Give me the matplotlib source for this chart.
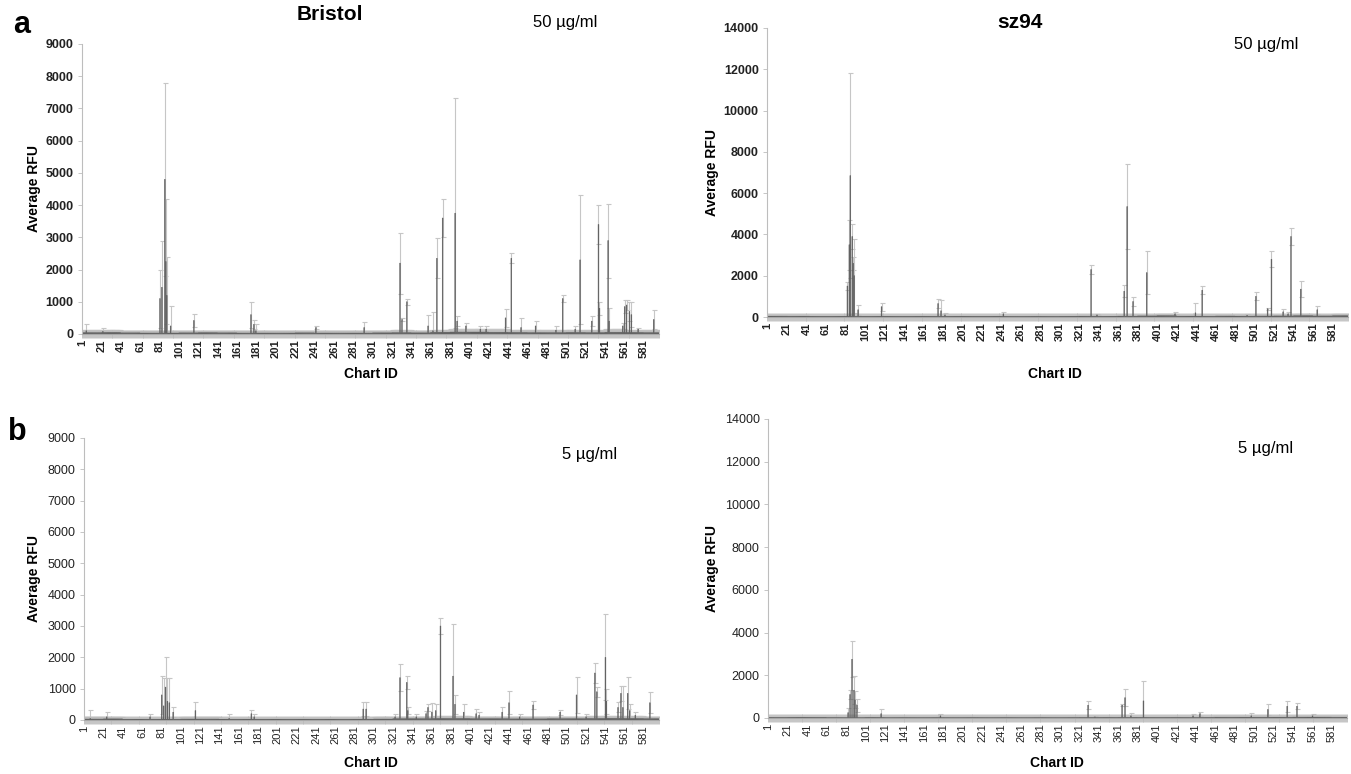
import numpy as np
import matplotlib
matplotlib.use("Agg")
import matplotlib.pyplot as plt

plt.rcParams['font.family'] = ['Liberation Sans', 'DejaVu Sans']

N_CHARTS = 596
TICK_IDS = list(range(1, 582, 20))

# baseline level per block of 20 chart IDs (1-20, 21-40, ... 581-596)
TL_BASE = [40, 45, 35, 30, 30, 35, 40, 35, 30, 30, 30, 35, 30, 30, 30,
           35, 40, 35, 50, 60, 60, 50, 45, 40, 40, 45, 40, 50, 45, 40]
TL_BASE_ERR = [80, 70, 60, 55, 50, 60, 60, 55, 50, 50, 50, 55, 50, 50, 55,
               60, 70, 60, 80, 100, 100, 90, 80, 70, 70, 80, 70, 90, 80, 70]
TR_BASE = [40, 35, 30, 30, 30, 30, 30, 30, 30, 30, 30, 30, 25, 25, 25,
           30, 35, 30, 40, 50, 60, 40, 35, 45, 40, 45, 50, 60, 50, 60]
TR_BASE_ERR = [60, 50, 40, 40, 40, 40, 40, 40, 40, 40, 40, 40, 35, 35, 35,
               40, 50, 40, 60, 70, 70, 60, 50, 60, 60, 70, 70, 80, 70, 70]
BL_BASE = [30, 35, 25, 25, 25, 30, 30, 25, 25, 25, 25, 25, 25, 25, 25,
           30, 40, 40, 45, 45, 40, 40, 35, 35, 40, 40, 45, 50, 45, 40]
BL_BASE_ERR = [60, 60, 50, 45, 45, 50, 50, 45, 45, 45, 45, 45, 45, 45, 45,
               55, 70, 70, 80, 80, 70, 70, 60, 60, 70, 70, 80, 90, 80, 70]
BR_BASE = [20, 25, 25, 15, 15, 20, 15, 15, 15, 15, 15, 15, 15, 15, 15,
           15, 20, 20, 25, 20, 20, 20, 20, 30, 30, 30, 30, 40, 40, 30]
BR_BASE_ERR = [35, 40, 35, 30, 30, 30, 30, 30, 30, 30, 30, 30, 30, 30, 30,
               30, 35, 35, 40, 35, 35, 35, 35, 45, 45, 45, 45, 55, 55, 45]

# Bristol, 50 ug/ml: charts that stand out from the baseline
TL_IDS = [5, 22, 81, 83, 86, 87, 88, 92, 116, 175, 178, 180, 242, 292, 329,
          331, 336, 358, 363, 367, 373, 386, 388, 397, 412, 418, 438, 444,
          454, 469, 490, 497, 510, 515, 527, 534, 535, 544, 545, 559, 561,
          563, 566, 568, 575, 591]
TL_MEAN = [100, 80, 1100, 1450, 4800, 2250, 1200, 250, 420, 600, 300, 100,
           200, 200, 2200, 450, 1000, 250, 100, 2350, 3600, 3750, 400, 250,
           150, 150, 500, 2350, 200, 250, 120, 1100, 150, 2300, 400, 3400,
           800, 2900, 400, 250, 850, 900, 700, 600, 150, 450]
TL_ERR = [200, 120, 900, 1430, 3000, 1950, 1200, 630, 190, 400, 150, 200,
          50, 160, 950, 50, 100, 350, 580, 620, 600, 3570, 150, 100, 100,
          100, 280, 150, 300, 150, 130, 100, 100, 2000, 150, 600, 200, 1150,
          400, 100, 200, 150, 300, 380, 50, 280]

# sz94, 50 ug/ml
TR_IDS = [5, 21, 83, 85, 86, 88, 89, 90, 94, 118, 176, 179, 183, 243, 333,
          339, 367, 370, 376, 390, 419, 440, 447, 493, 502, 514, 518, 530,
          535, 538, 548, 565]
TR_MEAN = [40, 40, 1500, 3500, 6850, 3900, 2600, 2000, 350, 500, 650, 300,
           100, 150, 2300, 100, 1250, 5350, 750, 2150, 150, 200, 1300, 80,
           1000, 400, 2800, 250, 150, 3900, 1350, 350]
TR_ERR = [60, 50, 200, 1200, 4950, 600, 300, 1800, 250, 200, 200, 520, 100,
          100, 200, 50, 300, 2050, 200, 1050, 100, 500, 200, 70, 200, 50, 400,
          150, 100, 400, 400, 200]

# Bristol, 5 ug/ml
BL_IDS = [7, 24, 69, 81, 83, 85, 87, 89, 93, 116, 151, 174, 177, 290, 293,
          323, 328, 335, 336, 345, 355, 357, 361, 365, 370, 383, 385, 394,
          407, 410, 434, 441, 452, 466, 494, 511, 521, 530, 532, 541, 542,
          554, 557, 559, 564, 566, 572, 587]
BL_MEAN = [50, 100, 100, 800, 450, 1050, 600, 550, 250, 300, 50, 200, 100,
           350, 350, 100, 1350, 1200, 300, 100, 200, 400, 250, 300, 3000,
           1400, 500, 250, 200, 150, 250, 550, 100, 480, 250, 800, 100, 1500,
           900, 2000, 600, 400, 850, 400, 850, 300, 150, 550]
BL_ERR = [280, 170, 100, 620, 900, 950, 730, 780, 150, 270, 150, 130, 100,
          210, 210, 100, 430, 200, 120, 100, 100, 100, 300, 220, 250, 1650,
          300, 250, 150, 100, 150, 370, 100, 120, 80, 570, 100, 330, 150,
          1370, 400, 160, 250, 700, 510, 220, 100, 340]

# sz94, 5 ug/ml
BR_IDS = [83, 85, 87, 89, 90, 92, 117, 178, 330, 337, 365, 368, 374, 387,
          438, 445, 498, 515, 535, 545, 561]
BR_MEAN = [250, 1100, 2750, 1300, 850, 600, 200, 100, 600, 50, 600, 950,
           100, 800, 100, 200, 100, 400, 550, 550, 100]
BR_ERR = [220, 200, 850, 650, 400, 300, 200, 100, 200, 50, 50, 400, 150,
          950, 100, 100, 150, 250, 250, 150, 100]


def build_series(base, base_err, ids, means, errs):
    chart_ids = np.arange(1, N_CHARTS + 1)
    block = (chart_ids - 1) // 20
    vals = np.array(base, dtype=float)[block]
    err = np.array(base_err, dtype=float)[block]
    for i, m, e in zip(ids, means, errs):
        vals[i - 1] = m
        err[i - 1] = e
    return chart_ids, vals, err


def draw_panel(ax, series, ymax, ystep, bold_ticks):
    chart_ids, vals, err = series
    ax.errorbar(chart_ids, vals, yerr=err, fmt='none', ecolor='#c6c6c6',
                elinewidth=0.8, capsize=1.8, capthick=0.8, zorder=1)
    bars = ax.bar(chart_ids, vals, width=0.9, color='#5e5e5e',
                  edgecolor='#5e5e5e', linewidth=0.3, zorder=2)
    for b in bars:
        b.set_snap(False)
    ax.set_xlim(0.5, N_CHARTS + 0.5)
    ax.set_ylim(0, ymax)
    ax.set_yticks(np.arange(0, ymax + 1, ystep))
    ax.set_xticks(TICK_IDS)
    ax.set_xticks(chart_ids, minor=True)
    weight = 'bold' if bold_ticks else 'normal'
    ax.set_xticklabels([str(t) for t in TICK_IDS], rotation=90,
                       fontsize=8, fontweight=weight, color='#222222')
    for lab in ax.get_yticklabels():
        lab.set_fontsize(9)
        lab.set_fontweight(weight)
        lab.set_color('#222222')
    ax.tick_params(axis='x', which='both', length=6, width=0.6,
                   color='#bcbcbc', direction='inout', pad=1)
    ax.tick_params(axis='y', length=3, width=0.6, color='#bdbdbd', pad=3)
    for side in ['top', 'right']:
        ax.spines[side].set_visible(False)
    ax.spines['left'].set_color('#bdbdbd')
    ax.spines['bottom'].set_color('#a8a8a8')


W, H = 1351, 774
fig = plt.figure(figsize=(W / 100, H / 100), dpi=100)


def px_axes(x0, x1, ytop, ybot):
    return fig.add_axes([x0 / W, 1 - ybot / H, (x1 - x0) / W, (ybot - ytop) / H])


ax_tl = px_axes(82, 659, 44, 334)
ax_tr = px_axes(767, 1348, 28, 317)
ax_bl = px_axes(84, 659, 438, 720)
ax_br = px_axes(768, 1347, 419, 718)

draw_panel(ax_tl, build_series(TL_BASE, TL_BASE_ERR, TL_IDS, TL_MEAN, TL_ERR), 9000, 1000, True)
draw_panel(ax_tr, build_series(TR_BASE, TR_BASE_ERR, TR_IDS, TR_MEAN, TR_ERR), 14000, 2000, True)
draw_panel(ax_bl, build_series(BL_BASE, BL_BASE_ERR, BL_IDS, BL_MEAN, BL_ERR), 9000, 1000, False)
draw_panel(ax_br, build_series(BR_BASE, BR_BASE_ERR, BR_IDS, BR_MEAN, BR_ERR), 14000, 2000, False)


def ftext(x, y, s, **kw):
    fig.text(x / W, 1 - y / H, s, ha='center', va='center', **kw)


ftext(22, 25, 'a', fontsize=22, fontweight='bold')
ftext(17, 432, 'b', fontsize=22, fontweight='bold')
ftext(330, 15, 'Bristol', fontsize=15, fontweight='bold')
ftext(1020, 22, 'sz94', fontsize=15, fontweight='bold')
ftext(565, 22, '50 µg/ml', fontsize=12)
ftext(1266, 45, '50 µg/ml', fontsize=12)
ftext(590, 455, '5 µg/ml', fontsize=12)
ftext(1266, 449, '5 µg/ml', fontsize=12)

for x, y in [(371, 374), (1055, 374), (371, 763), (1057, 763)]:
    ftext(x, y, 'Chart ID', fontsize=10, fontweight='bold')
for x, y in [(34, 189), (712, 172), (34, 579), (712, 568)]:
    ftext(x, y, 'Average RFU', fontsize=10, fontweight='bold', rotation=90)

fig.savefig('out.png', dpi=100, facecolor='white')
